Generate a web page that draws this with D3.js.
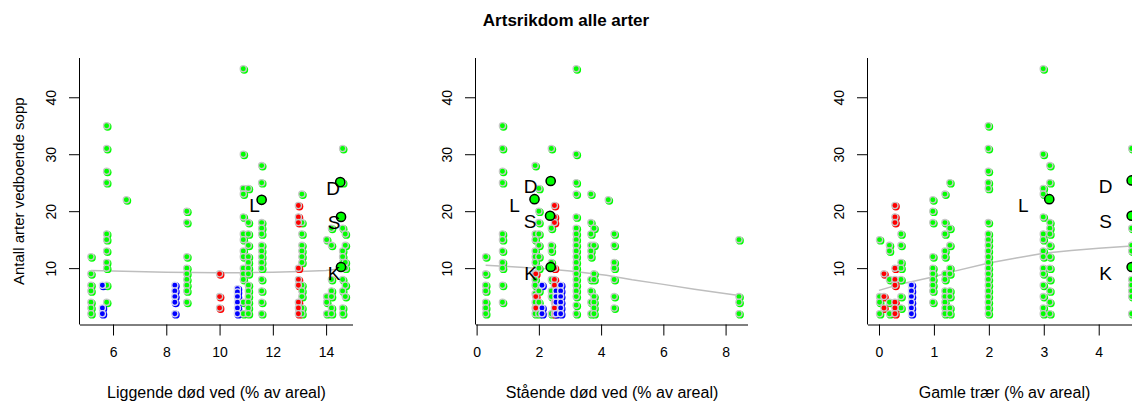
<!DOCTYPE html>
<html>
<head>
<meta charset="utf-8">
<script src="https://d3js.org/d3.v7.min.js"></script>
<style>
  body { margin: 0; background: #fff; }
  svg { display: block; font-family: "Liberation Sans", Arial, sans-serif; }
</style>
</head>
<body>
<div class="chart-page"></div>
<script>
// ---- data ----
const mainTitle = "Artsrikdom alle arter";
const yTitle = "Antall arter vedboende sopp";
const xTitles = ["Liggende død ved (% av areal)", "Stående død ved (% av areal)", "Gamle trær (% av areal)"];
const yTicks = [10, 20, 30, 40];
const p1Ticks = [6, 8, 10, 12, 14];
const p2Ticks = [0, 2, 4, 6, 8];
const p3Ticks = [0, 1, 2, 3, 4];

// columns: [x, group, [y values]]  g = green, r = red, b = blue
const p1Cols = [
  [5.17, "g", [12, 9, 7, 6, 4, 3, 2]],
  [5.6, "b", [7, 3, 2]],
  [5.76, "g", [35, 31, 27, 25, 16, 15, 13, 11, 10, 7, 4]],
  [6.5, "g", [22]],
  [8.32, "b", [7, 6, 5, 4, 2]],
  [8.77, "g", [20, 18, 12, 10, 9, 8, 7, 6, 4]],
  [10.0, "r", [9, 5, 3]],
  [10.67, "b", [6.4, 5.8, 5, 4, 3, 2]],
  [10.89, "g", [45, 30, 24, 23, 19, 16, 15, 13, 12, 10, 9, 8, 4, 2]],
  [11.08, "g", [24, 18, 16, 14, 12, 11, 10, 9, 7, 6, 5, 4, 3, 2]],
  [11.58, "g", [28, 25, 18, 17, 16, 14, 13, 12, 11, 10, 8, 6, 4, 2]],
  [12.96, "r", [21, 19, 18, 10, 8, 7, 4, 3, 2]],
  [13.09, "g", [23, 18, 16, 14, 13, 12, 11, 7, 6, 5, 3, 2]],
  [14.02, "g", [15, 5, 4, 2]],
  [14.2, "g", [17, 14, 8, 6, 5, 3, 2]],
  [14.62, "g", [31, 25, 17, 13, 12, 11, 8, 6, 3, 2]],
  [14.72, "g", [16, 14, 11, 10, 7, 5]]
];
const p2Cols = [
  [0.29, "g", [12, 9, 7, 6, 4, 3, 2]],
  [0.83, "g", [35, 31, 27, 25, 16, 15, 13, 11, 10, 7, 4]],
  [1.88, "g", [28, 16, 15, 13, 12, 11, 9, 8, 7, 5.5, 4, 3, 2]],
  [2.0, "g", [24, 20, 18, 16, 14, 12, 10, 6, 4, 2]],
  [1.9, "r", [9, 5, 3]],
  [2.1, "b", [7, 3, 2]],
  [2.4, "g", [31, 17, 14, 13, 11, 8, 6, 5, 2]],
  [2.5, "r", [21, 19, 18, 10, 8, 7, 4, 3, 2]],
  [2.55, "b", [6, 5, 4, 2]],
  [2.7, "b", [7, 6, 5, 4, 3, 2]],
  [3.2, "g", [45, 30, 25, 23, 19, 17, 16, 15, 14, 13, 12, 11, 10, 9, 8, 7, 6, 5, 3.5, 2]],
  [3.67, "g", [23, 18, 16, 14, 13, 12, 8, 6, 4, 2]],
  [3.77, "g", [17, 14, 9, 8, 5, 4, 3, 2]],
  [4.23, "g", [22]],
  [4.42, "g", [16, 14, 11, 10, 8, 5, 3]],
  [8.43, "g", [15, 5, 4, 2]]
];
const p3Cols = [
  [0.01, "g", [15, 5, 4, 2]],
  [0.19, "g", [14, 13, 8, 4, 2]],
  [0.4, "g", [16, 14, 11, 10, 8, 5, 3]],
  [0.98, "g", [22, 20, 18, 12, 10, 9, 8, 7, 6, 4]],
  [1.2, "g", [23, 18, 16, 13, 12, 9, 8, 6, 5, 4, 3, 2]],
  [1.29, "g", [25, 17, 14, 10, 9, 6, 5, 3, 2]],
  [1.99, "g", [35, 31, 27, 25, 24, 18, 16, 15, 14, 13, 12, 11, 10, 9, 8, 7, 6, 5, 4, 3, 2]],
  [2.99, "g", [45, 30, 24, 23, 19, 16, 15, 13, 12, 10, 9, 7, 5, 3, 2]],
  [3.11, "g", [28, 25, 18, 17, 16, 14, 12, 10, 8, 6, 4, 2]],
  [4.6, "g", [31, 17, 14, 13, 8, 7, 6, 5, 2]],
  [0.09, "r", [9, 5, 3]],
  [0.29, "r", [21, 19, 18, 10, 8, 7, 4, 3, 2]],
  [0.59, "b", [7, 6, 5, 4, 3, 2]]
];

// smoother lines
const p1Smooth = [[5.17, 9.6], [6, 9.5], [8, 9.3], [10, 9.2], [11, 9.2], [12, 9.3], [13, 9.4], [14, 9.6], [14.72, 10.0]];
const p2Smooth = [[0.29, 10.5], [1, 10.3], [2.2, 9.9], [3, 9.5], [4.17, 8.75], [5, 7.95], [6, 7.15], [7, 6.3], [8.43, 5.2]];
const p3Smooth = [[0, 6.1], [0.4, 7.2], [1, 8.5], [1.3, 9.3], [2, 10.9], [2.5, 11.8], [3, 12.6], [3.5, 13.1], [4, 13.5], [4.6, 13.9]];

// group means: [label, x, y]
const p1Special = [["L", 11.58, 22], ["D", 14.53, 25.1], ["S", 14.56, 19], ["K", 14.56, 10.2]];
const p2Special = [["L", 1.86, 22.1], ["D", 2.38, 25.3], ["S", 2.36, 19.2], ["K", 2.38, 10.2]];
const p3Special = [["L", 3.1, 22.1], ["D", 4.6, 25.4], ["S", 4.6, 19.2], ["K", 4.6, 10.2]];

// ---- layout ----
const width = 1132, height = 403;
const plotTop = 59, plotBottom = 323.5;
const panels = [
  { cols: p1Cols, smooth: p1Smooth, special: p1Special, ticks: p1Ticks, title: xTitles[0], left: 80, right: 353, domain: [4.76, 15.01], labOff: 7 },
  { cols: p2Cols, smooth: p2Smooth, special: p2Special, ticks: p2Ticks, title: xTitles[1], left: 476, right: 748, domain: [-0.02, 8.72], labOff: 20 },
  { cols: p3Cols, smooth: p3Smooth, special: p3Special, ticks: p3Ticks, title: xTitles[2], left: 868, right: 1141, domain: [-0.2, 4.77], labOff: 26 }
];
const fills = { g: "#00ff00", r: "#ff0000", b: "#0000ff" };
const order = { g: 0, r: 1, b: 2 };

const svg = d3.select(".chart-page")
  .append("svg")
  .attr("width", width)
  .attr("height", height);

svg.append("text")
  .attr("x", 566)
  .attr("y", 26)
  .attr("text-anchor", "middle")
  .attr("font-size", 17)
  .attr("font-weight", "bold")
  .text(mainTitle);

let y = d3.scaleLinear().domain([0.28, 46.72]).range([plotBottom, plotTop]);

panels.forEach(function(p, i) {
  let x = d3.scaleLinear().domain(p.domain).range([p.left, p.right]);
  let g = svg.append("g");

  // smoother
  g.append("path")
    .datum(p.smooth)
    .attr("fill", "none")
    .attr("stroke", "#bebebe")
    .attr("stroke-width", 1.5)
    .attr("d", d3.line().x(d => x(d[0])).y(d => y(d[1])));

  let pts = [];
  p.cols.forEach(function(c) {
    c[2].forEach(function(v) { pts.push({ x: c[0], y: v, grp: c[1] }); });
  });
  pts.sort((a, b) => order[a.grp] - order[b.grp]);

  // offset shadow then ringed dot
  g.selectAll(".shadow")
    .data(pts)
    .enter()
    .append("circle")
    .attr("cx", d => x(d.x) + 1)
    .attr("cy", d => y(d.y) + 1)
    .attr("r", 3.9)
    .attr("fill", d => fills[d.grp]);

  g.selectAll(".dot")
    .data(pts)
    .enter()
    .append("circle")
    .attr("cx", d => x(d.x))
    .attr("cy", d => y(d.y))
    .attr("r", 3.1)
    .attr("fill", d => fills[d.grp])
    .attr("stroke", d => d.grp == "b" ? "#d8d8f0" : "#c8c8c8")
    .attr("stroke-width", 1.3);

  // group means
  g.selectAll(".mean")
    .data(p.special)
    .enter()
    .append("circle")
    .attr("cx", d => x(d[1]))
    .attr("cy", d => y(d[2]))
    .attr("r", 4.6)
    .attr("fill", "#00ff00")
    .attr("stroke", "#000")
    .attr("stroke-width", 1.5);

  g.selectAll(".lab")
    .data(p.special)
    .enter()
    .append("text")
    .attr("x", d => x(d[1]) - p.labOff)
    .attr("y", d => y(d[2]) + 12.5)
    .attr("text-anchor", "middle")
    .attr("font-size", 19)
    .text(d => d[0]);

  // axes
  let xAxis = d3.axisBottom(x).tickValues(p.ticks).tickFormat(d => d).tickSize(11).tickPadding(12).tickSizeOuter(0);
  let gx = g.append("g")
    .attr("transform", "translate(0," + (plotBottom + 1) + ")")
    .call(xAxis);
  gx.select(".domain").attr("d", "M" + p.left + ",0.5H" + p.right);
  gx.selectAll("text").attr("font-size", 14).attr("font-family", "Liberation Sans, Arial, sans-serif").attr("fill", "#000");

  let yAxis = d3.axisLeft(y).tickValues(yTicks).tickSize(11).tickSizeOuter(0);
  let gy = g.append("g")
    .attr("transform", "translate(" + p.left + ",0)")
    .call(yAxis);
  gy.select(".domain").attr("d", "M-0.5," + (plotBottom + 1) + "V" + (plotTop - 1));
  gy.selectAll(".tick text")
    .attr("font-size", 14)
    .attr("font-family", "Liberation Sans, Arial, sans-serif")
    .attr("fill", "#000")
    .attr("x", null)
    .attr("dy", null)
    .attr("text-anchor", "middle")
    .attr("transform", "translate(-24,0) rotate(-90)");

  g.append("text")
    .attr("x", (p.left + p.right) / 2)
    .attr("y", 398)
    .attr("text-anchor", "middle")
    .attr("font-size", 16)
    .text(p.title);

  if (i == 0) {
    g.append("text")
      .attr("transform", "translate(24," + ((plotTop + plotBottom) / 2) + ") rotate(-90)")
      .attr("text-anchor", "middle")
      .attr("font-size", 15)
      .text(yTitle);
  }
});
</script>
</body>
</html>
